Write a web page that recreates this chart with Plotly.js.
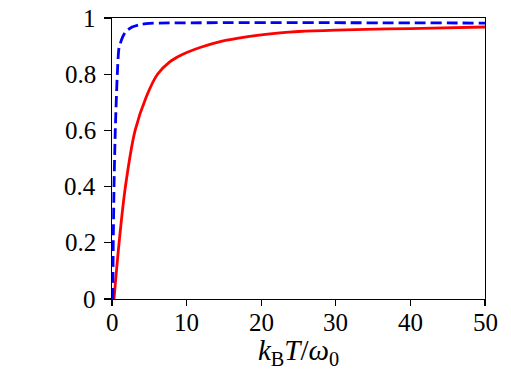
<!DOCTYPE html>
<html>
<head>
<meta charset="utf-8">
<script src="https://cdn.plot.ly/plotly-3.0.1.min.js"></script>
<style>
html,body{margin:0;padding:0;background:#fff;}
#chart{width:511px;height:383px;}
</style>
</head>
<body>
<div id="chart"></div>
<script>
// Red solid curve
var redX = [0.27, 0.95, 1.8, 3.1, 4.6, 6.1, 7.7, 9.1, 10.1, 11.8, 14.5, 18.0, 22.5, 25.0, 30.0, 37.0, 43.0, 50.0];
var redY = [0.0, 0.2, 0.4, 0.6, 0.72, 0.8, 0.843, 0.866, 0.878, 0.895, 0.916, 0.933, 0.947, 0.952, 0.957, 0.961, 0.964, 0.968];
// Blue dashed curve
var blueX = [0.1, 0.17, 0.27, 0.44, 0.71, 0.94, 1.39, 1.8, 2.7, 3.8, 5.0, 50.0];
var blueY = [0.0, 0.2, 0.4, 0.6, 0.8, 0.893, 0.93, 0.95, 0.968, 0.977, 0.981, 0.982];

var xTicks = [0, 10, 20, 30, 40, 50];
var xTickText = ["0", "10", "20", "30", "40", "50"];
var yTicks = [0, 0.2, 0.4, 0.6, 0.8, 1];
var yTickText = ["0", "0.2", "0.4", "0.6", "0.8", "1"];

var serif = "Liberation Serif";
var tickFont = {family: serif, size: 25, color: "#000"};

var traces = [
  {x: redX, y: redY, mode: "lines", line: {color: "#ff0000", width: 2.8, shape: "spline", smoothing: 1}, hoverinfo: "none"},
  {x: blueX, y: blueY, mode: "lines", line: {color: "#0000ff", width: 2.8, dash: "11px,5px", shape: "spline", smoothing: 0.6}, hoverinfo: "none"}
];

var annotations = [];
xTicks.forEach(function (v, i) {
  annotations.push({x: v, xref: "x", y: 0, yref: "paper", text: xTickText[i], showarrow: false,
    xanchor: "center", yanchor: "top", yshift: -9, font: tickFont, borderpad: 0});
});
yTicks.forEach(function (v, i) {
  annotations.push({x: 0, xref: "paper", y: v, yref: "y", text: yTickText[i], showarrow: false,
    xanchor: "right", yanchor: "middle", xshift: -15, font: tickFont, borderpad: 0});
});

var layout = {
  width: 511, height: 383,
  margin: {l: 112, r: 26, t: 18, b: 84},
  paper_bgcolor: "#fff", plot_bgcolor: "#fff",
  showlegend: false,
  font: {family: serif, size: 25, color: "#000"},
  annotations: annotations,
  xaxis: {
    range: [0, 50], tickvals: xTicks, showticklabels: false,
    showgrid: false, zeroline: false,
    showline: true, mirror: true, linecolor: "#000", linewidth: 1.3,
    ticks: "outside", ticklen: 6, tickwidth: 1.3, tickcolor: "#000",
    title: {text: "<i>k</i><sub>B</sub><i>T</i>/<i>ω</i><sub>0</sub>", font: {family: serif, size: 29, color: "#000"}, standoff: 34}
  },
  yaxis: {
    range: [0, 1], tickvals: yTicks, showticklabels: false,
    showgrid: false, zeroline: false,
    showline: true, mirror: true, linecolor: "#000", linewidth: 1.3,
    ticks: "outside", ticklen: 7, tickwidth: 1.3, tickcolor: "#000"
  }
};

Plotly.newPlot("chart", traces, layout, {staticPlot: true, displayModeBar: false});
</script>
</body>
</html>
